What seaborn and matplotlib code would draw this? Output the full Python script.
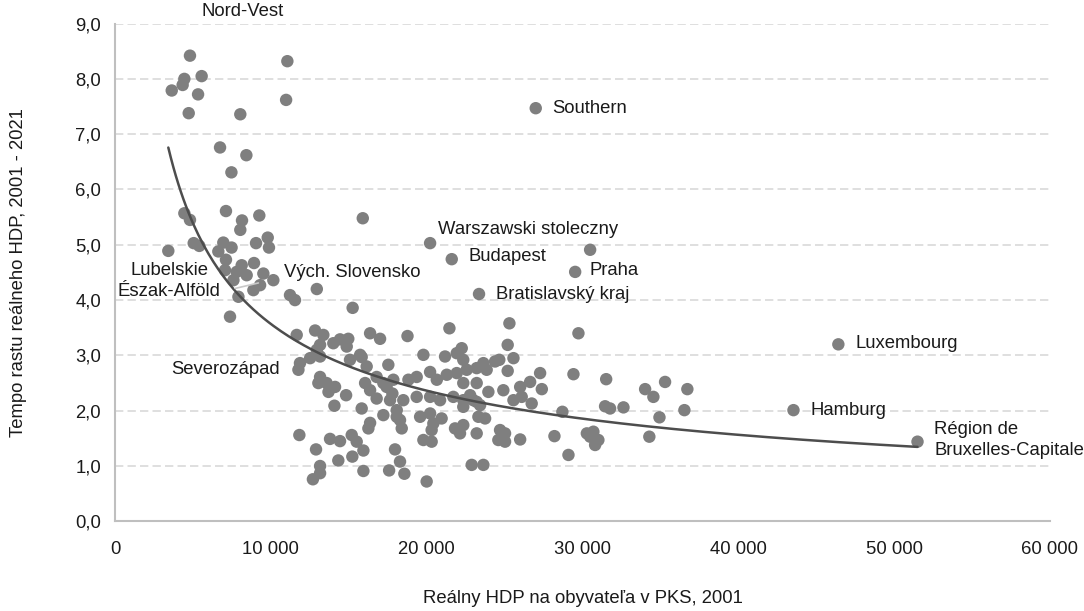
import numpy as np
import pandas as pd
import matplotlib
matplotlib.use("Agg")
import matplotlib.pyplot as plt
import matplotlib.ticker as mticker
import seaborn as sns

# real GDP per capita in PPS, 2001 (x) and real GDP growth index 2001-2021 (y)
gdp_poor = [4810, 11060, 4450, 5560, 4340, 3640, 5330, 10980, 4730, 8040, 6740, 8430, 7470,
            4450, 4810, 7120, 8150, 8040, 9260, 15900,
            5050, 5410, 3420, 6950, 7480, 9050, 9800, 9880, 6630,
            7120, 8130, 8920, 7060, 7810, 8450, 9520, 10160, 9310, 8880, 7600, 7920, 7380,
            11230, 11550, 12950, 15250]
growth_poor = [8.42, 8.32, 8.00, 8.05, 7.89, 7.79, 7.72, 7.62, 7.38, 7.36, 6.76, 6.62, 6.31,
               5.57, 5.45, 5.61, 5.44, 5.27, 5.53, 5.48,
               5.03, 4.98, 4.89, 5.04, 4.95, 5.03, 5.13, 4.95, 4.88,
               4.73, 4.63, 4.67, 4.54, 4.51, 4.45, 4.48, 4.36, 4.27, 4.18, 4.36, 4.06, 3.70,
               4.09, 4.00, 4.20, 3.86]

gdp_named = [27000, 20220, 21610, 30490, 29530, 23360, 46420, 43540, 51500]
growth_named = [7.47, 5.03, 4.74, 4.91, 4.51, 4.11, 3.20, 2.01, 1.44]

gdp_mid = [11660, 12840, 13370, 14440, 14970, 14870, 16370, 17010, 18770, 13160,
           11870, 11770, 12950, 13160, 12520, 14010, 15080, 15730, 16150, 17540, 15830,
           13160, 13580, 13050, 13800, 14120, 13700, 14830, 14080, 15830, 16370, 16790, 17800,
           16050, 16790, 17430, 17220, 17650, 18500, 18080, 18290,
           17860, 18830, 19360, 20220, 20650, 21290, 21930, 22570, 23210, 23640, 23850, 24390,
           19360, 20220, 20860, 21710, 22350, 22990, 22790, 23210,
           22350, 23430, 22350, 23210, 23960, 22350,
           21460, 25310, 25200, 25570, 24660, 25200, 27280, 27390, 26640, 26000, 26740, 25570,
           24920, 26100, 22250, 21930, 21180, 19790]
growth_mid = [3.37, 3.45, 3.37, 3.29, 3.30, 3.16, 3.40, 3.30, 3.35, 3.19,
              2.86, 2.74, 3.10, 2.98, 2.95, 3.22, 2.92, 3.01, 2.80, 2.83, 2.97,
              2.61, 2.50, 2.50, 2.40, 2.43, 2.34, 2.28, 2.09, 2.04, 2.37, 2.22, 2.31,
              2.50, 2.61, 2.43, 2.50, 2.19, 2.19, 2.01, 1.83,
              2.56, 2.56, 2.61, 2.70, 2.56, 2.65, 2.68, 2.74, 2.77, 2.86, 2.74, 2.89,
              2.25, 2.25, 2.19, 2.25, 2.19, 2.19, 2.28, 2.16,
              2.07, 2.10, 2.92, 2.50, 2.34, 2.50,
              3.49, 3.58, 3.19, 2.95, 2.92, 2.72, 2.68, 2.39, 2.52, 2.43, 2.13, 2.19,
              2.37, 2.25, 3.13, 3.04, 2.98, 3.01]

gdp_low = [17220, 18080, 18400, 16370, 16260,
           19580, 20220, 20430, 20960, 20320, 19790, 20320,
           21820, 22140, 22350, 23210, 23320, 23750,
           24600, 25030, 25030, 26000, 24710, 22890, 23640,
           11830, 12900, 13800, 14440, 15190, 15510, 15940, 14330, 15230,
           13160, 13160, 12700, 15940,
           17970, 18290, 17590, 18570, 20000]
growth_low = [1.92, 1.89, 1.68, 1.78, 1.68,
              1.89, 1.95, 1.77, 1.86, 1.65, 1.47, 1.44,
              1.68, 1.59, 1.74, 1.59, 1.89, 1.86,
              1.47, 1.59, 1.44, 1.48, 1.65, 1.02, 1.02,
              1.56, 1.30, 1.49, 1.45, 1.56, 1.44, 1.28, 1.10, 1.17,
              1.00, 0.87, 0.76, 0.91,
              1.30, 1.08, 0.92, 0.86, 0.72]

gdp_rich = [29740, 29420, 28710, 31520, 31450, 31770, 32630, 34020, 34550, 35300, 34940,
            36730, 36540, 28200, 29100, 30280, 30700, 31020, 30810, 30490, 34290]
growth_rich = [3.40, 2.66, 1.98, 2.57, 2.08, 2.04, 2.06, 2.39, 2.25, 2.52, 1.88,
               2.39, 2.01, 1.54, 1.20, 1.59, 1.62, 1.47, 1.38, 1.53, 1.53]

df = pd.DataFrame({
    'gdp': gdp_poor + gdp_named + gdp_mid + gdp_low + gdp_rich,
    'growth': growth_poor + growth_named + growth_mid + growth_low + growth_rich,
})

sns.set_theme(style='white')
plt.rcParams['font.family'] = ['Liberation Sans', 'DejaVu Sans']

fig = plt.figure(figsize=(10.84, 6.11), dpi=100)
ax = fig.add_axes([0.1061, 0.1468, 0.8625, 0.8146])

ax.yaxis.grid(True, color='#d9d9d9', linestyle=(0, (5, 2.5)), linewidth=1.2)
ax.set_axisbelow(True)

sns.scatterplot(data=df, x='gdp', y='growth', ax=ax, color='#7f7f7f', s=80,
                edgecolor='none', zorder=3, legend=False)

# power trendline (Excel style: linear fit in log-log space)
b, a = np.polyfit(np.log(df['gdp']), np.log(df['growth']), 1)
xs = np.linspace(df['gdp'].min(), df['gdp'].max(), 300)
ax.plot(xs, np.exp(a) * xs ** b, color='#4d4d4d', linewidth=1.8, zorder=4)

# leader line for Észak-Alföld
ax.plot([7700, 9200], [4.21, 4.31], color='#c8c8c8', linewidth=1.2, zorder=5)

fs = 13.3
labels = [
    ('Nord-Vest', 8220, 9.21, 'center'),
    ('Southern', 28050, 7.47, 'left'),
    ('Warszawski stoleczny', 20750, 5.28, 'left'),
    ('Budapest', 22680, 4.79, 'left'),
    ('Praha', 30440, 4.54, 'left'),
    ('Bratislavský kraj', 24450, 4.11, 'left'),
    ('Luxembourg', 47500, 3.22, 'left'),
    ('Hamburg', 44610, 2.00, 'left'),
    ('Région de\nBruxelles-Capitale', 52570, 1.47, 'left'),
    ('Lubelskie\nÉszak-Alföld', 3470, 4.34, 'center'),
    ('Vých. Slovensko', 10870, 4.50, 'left'),
    ('Severozápad', 10590, 2.74, 'right'),
]
for txt, lx, ly, ha in labels:
    ax.text(lx, ly, txt, ha=ha, va='center', fontsize=fs, color='#1a1a1a',
            linespacing=1.3, clip_on=False, zorder=6)

ax.set_xlim(0, 60000)
ax.set_ylim(0, 9)
ax.xaxis.set_major_locator(mticker.MultipleLocator(10000))
ax.yaxis.set_major_locator(mticker.MultipleLocator(1))
ax.xaxis.set_major_formatter(mticker.FuncFormatter(lambda v, p: f'{v:,.0f}'.replace(',', ' ')))
ax.yaxis.set_major_formatter(mticker.FuncFormatter(lambda v, p: f'{v:.1f}'.replace('.', ',')))

for side in ['top', 'right']:
    ax.spines[side].set_visible(False)
for side in ['left', 'bottom']:
    ax.spines[side].set_color('#bfbfbf')
    ax.spines[side].set_linewidth(1.5)

ax.tick_params(axis='both', which='major', direction='out', length=5, width=1.2,
               color='#bfbfbf', labelsize=fs, labelcolor='#1a1a1a')
ax.tick_params(axis='x', pad=9)
ax.tick_params(axis='y', pad=5)

ax.set_xlabel('Reálny HDP na obyvateľa v PKS, 2001', fontsize=fs, color='#1a1a1a')
ax.set_ylabel('Tempo rastu reálneho HDP, 2001 - 2021', fontsize=fs, color='#1a1a1a')
ax.xaxis.set_label_coords(0.5, -0.138)
ax.yaxis.set_label_coords(-0.094, 0.5)

fig.savefig('out.png', dpi=100)
